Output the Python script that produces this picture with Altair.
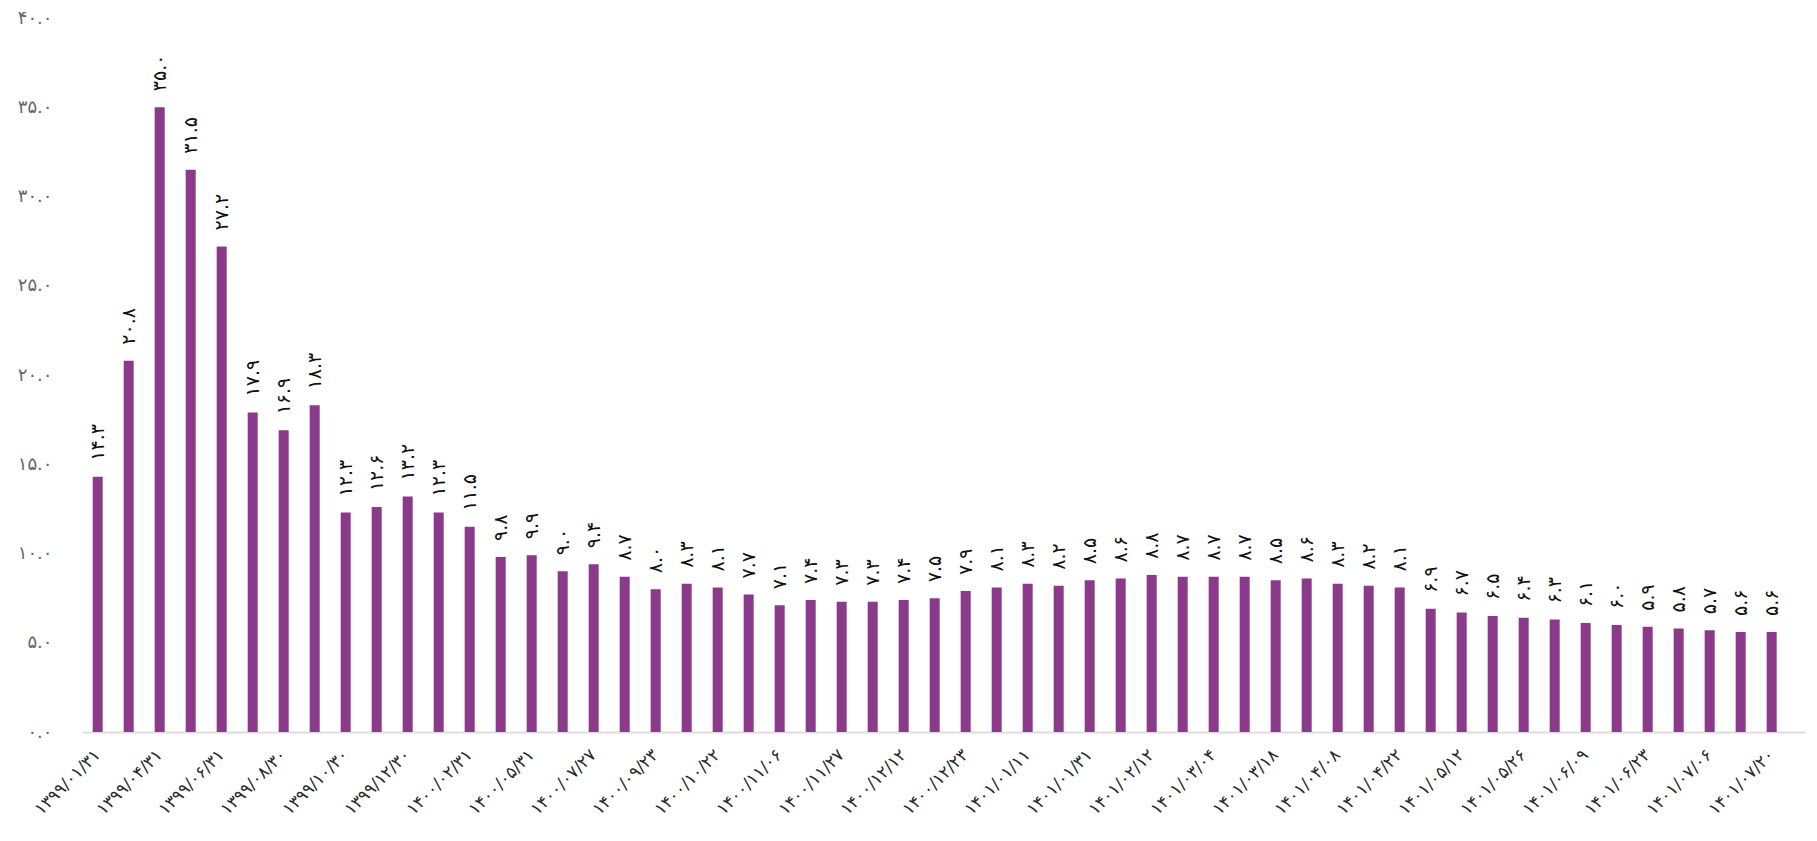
import altair as alt
import pandas as pd

# bar values (left to right)
values = [14.3, 20.8, 35.0, 31.5, 27.2, 17.9, 16.9, 18.3, 12.3, 12.6,
          13.2, 12.3, 11.5, 9.8, 9.9, 9.0, 9.4, 8.7, 8.0, 8.3,
          8.1, 7.7, 7.1, 7.4, 7.3, 7.3, 7.4, 7.5, 7.9, 8.1,
          8.3, 8.2, 8.5, 8.6, 8.8, 8.7, 8.7, 8.7, 8.5, 8.6,
          8.3, 8.2, 8.1, 6.9, 6.7, 6.5, 6.4, 6.3, 6.1, 6.0,
          5.9, 5.8, 5.7, 5.6, 5.6]

# x tick labels (only every other bar is labelled in the chart)
shown_dates = ["۱۳۹۹/۰۱/۳۱", "۱۳۹۹/۰۴/۳۱", "۱۳۹۹/۰۶/۳۱", "۱۳۹۹/۰۸/۳۰",
               "۱۳۹۹/۱۰/۳۰", "۱۳۹۹/۱۲/۳۰", "۱۴۰۰/۰۲/۳۱", "۱۴۰۰/۰۵/۳۱",
               "۱۴۰۰/۰۷/۲۷", "۱۴۰۰/۰۹/۲۳", "۱۴۰۰/۱۰/۲۲", "۱۴۰۰/۱۱/۰۶",
               "۱۴۰۰/۱۱/۲۷", "۱۴۰۰/۱۲/۱۲", "۱۴۰۰/۱۲/۲۳", "۱۴۰۱/۰۱/۱۱",
               "۱۴۰۱/۰۱/۳۱", "۱۴۰۱/۰۲/۱۲", "۱۴۰۱/۰۳/۰۴", "۱۴۰۱/۰۳/۱۸",
               "۱۴۰۱/۰۴/۰۸", "۱۴۰۱/۰۴/۲۲", "۱۴۰۱/۰۵/۱۲", "۱۴۰۱/۰۵/۲۶",
               "۱۴۰۱/۰۶/۰۹", "۱۴۰۱/۰۶/۲۳", "۱۴۰۱/۰۷/۰۶", "۱۴۰۱/۰۷/۲۰"]

# y tick values and their labels
y_ticks = [0, 5, 10, 15, 20, 25, 30, 35, 40]
y_tick_labels = ["۰.۰", "۵.۰", "۱۰.۰", "۱۵.۰", "۲۰.۰", "۲۵.۰", "۳۰.۰", "۳۵.۰", "۴۰.۰"]

FA = str.maketrans("0123456789", "۰۱۲۳۴۵۶۷۸۹")

x_labels = []
for i in range(len(values)):
    x_labels.append(shown_dates[i // 2] if i % 2 == 0 else "")

df = pd.DataFrame({
    "idx": list(range(len(values))),
    "value": values,
    "label": [f"{v:.1f}".translate(FA) for v in values],
})

x_expr = "[" + ",".join(f"'{s}'" for s in x_labels) + "][datum.value]"
y_expr = "[" + ",".join(f"'{s}'" for s in y_tick_labels) + "][datum.value / 5]"

FONT = "DejaVu Sans"

x_enc = alt.X(
    "idx:O",
    scale=alt.Scale(paddingInner=0.677, paddingOuter=0.629, align=0.274),
    axis=alt.Axis(
        title=None, labelExpr=x_expr, labelAngle=-45, labelAlign="right",
        labelBaseline="middle", labelFontSize=17, labelColor="#2a2a2a",
        labelFont=FONT, ticks=False, domainColor="#dddddd", domainWidth=2,
        labelPadding=20, labelOverlap=False, labelBound=False,
    ),
)
y_enc = alt.Y(
    "value:Q",
    scale=alt.Scale(domain=[0, 40], nice=False),
    axis=alt.Axis(
        title=None, values=y_ticks, labelExpr=y_expr, grid=False, domain=False,
        ticks=False, labelPadding=30, labelFontSize=18, labelColor="#666666",
        labelFont=FONT,
    ),
)

base = alt.Chart(df)
bars = base.mark_bar(color="#8B3A8B").encode(x=x_enc, y=y_enc)
texts = base.mark_text(
    angle=270, align="left", baseline="middle", dx=16,
    fontSize=19, color="#111111", font=FONT,
).encode(x=x_enc, y=y_enc, text="label:N")

chart = (
    alt.layer(bars, texts)
    .properties(
        width=1723, height=714,
        autosize=alt.AutoSizeParams(type="none"),
        padding={"left": 74, "top": 10, "right": 0, "bottom": 94},
        background="white",
    )
    .configure_view(stroke=None)
)

chart.save("out.html", embed_options={"renderer": "svg", "actions": False})
